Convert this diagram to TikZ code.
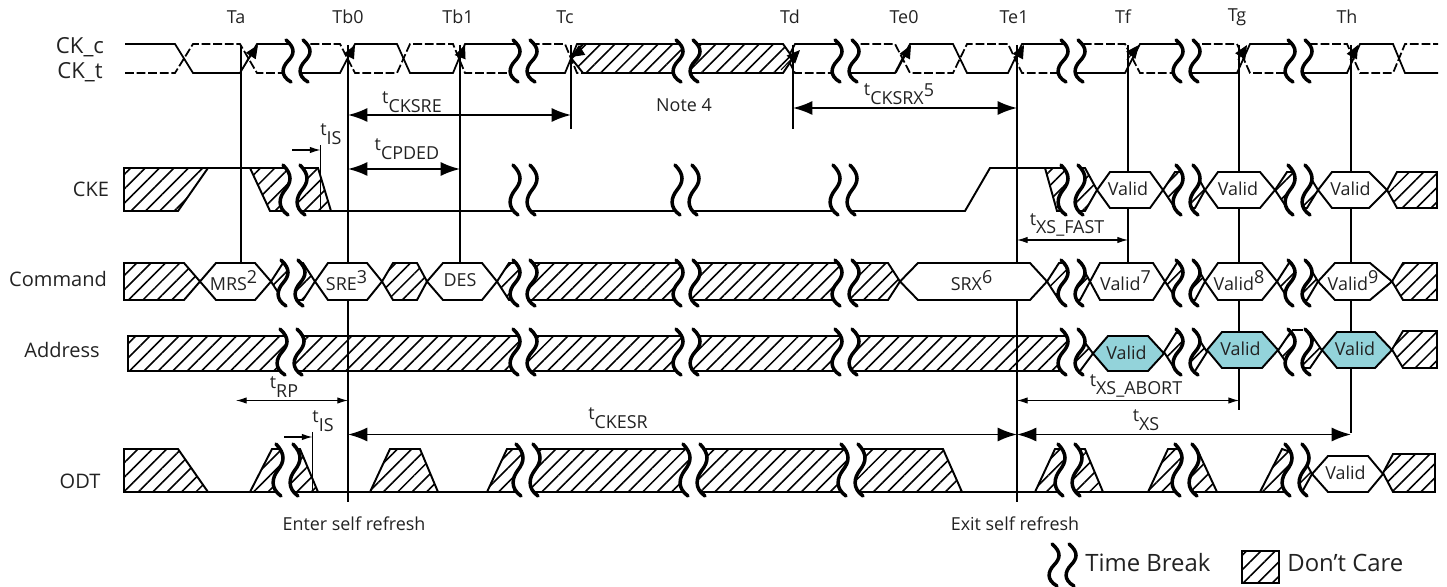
\documentclass[tikz,border=0pt]{standalone}
\usepackage{fontspec}
\setmainfont{Open Sans}
\usetikzlibrary{arrows.meta, patterns.meta}
\definecolor{validfill}{HTML}{93D3DA}
\definecolor{inkgray}{HTML}{222222}

% two wavy strokes with the gap between them wiped: x, centre y, half height
\newcommand{\timebreak}[3]{%
  \fill[white] (#1-2,#2-#3) .. controls (#1+8,#2-.6*#3) and (#1+6,#2-.3*#3) .. (#1,#2)
    .. controls (#1-6,#2+.3*#3) and (#1-8,#2+.7*#3) .. (#1+3,#2+#3)
    -- (#1+20,#2+#3) .. controls (#1+9,#2+.7*#3) and (#1+11,#2+.3*#3) .. (#1+17,#2)
    .. controls (#1+23,#2-.3*#3) and (#1+25,#2-.6*#3) .. (#1+15,#2-#3) -- cycle;
  \draw[brk] (#1-2,#2-#3) .. controls (#1+8,#2-.6*#3) and (#1+6,#2-.3*#3) .. (#1,#2)
    .. controls (#1-6,#2+.3*#3) and (#1-8,#2+.7*#3) .. (#1+3,#2+#3);
  \draw[brk] (#1+15,#2-#3) .. controls (#1+25,#2-.6*#3) and (#1+23,#2-.3*#3) .. (#1+17,#2)
    .. controls (#1+11,#2+.3*#3) and (#1+9,#2+.7*#3) .. (#1+20,#2+#3);
}
\newcommand{\tpar}[1]{\raisebox{5pt}{t}#1}
\newcommand{\upn}[1]{\raisebox{.42em}{#1}}

\begin{document}
\begin{tikzpicture}[
    x=0.02cm, y=-0.02cm,
    every node/.style={font=\fontsize{10.2}{12}\selectfont, text=inkgray, inner sep=0pt},
    sig/.style={font=\fontsize{11.4}{13}\selectfont},
    ckname/.style={font=\fontsize{12.6}{14}\selectfont},
    sigline/.style={line width=1pt, line join=miter},
    ckdash/.style={dash pattern=on 5pt off 1.6pt},
    hatch/.style={draw, line width=1.1pt, preaction={fill=white},
        pattern={Lines[angle=45, distance=5.8pt, line width=.9pt]}, pattern color=black},
    hexbus/.style={draw, line width=1.1pt, fill=white},
    hexvalid/.style={draw, line width=1.1pt, fill=validfill},
    brk/.style={line width=2pt, line cap=round},
    edge/.style={line width=1.2pt},
    clkarr/.style={-{Stealth[length=7.5pt, width=6.5pt, inset=0pt]}, line width=.6pt},
    dimbig/.style={{Latex[length=11pt, width=8pt]}-{Latex[length=11pt, width=8pt]}, line width=1.1pt},
    dimthin/.style={{Latex[length=6pt, width=3.6pt]}-{Latex[length=6pt, width=3.6pt]}, line width=.6pt},
    dimone/.style={-{Latex[length=6pt, width=3.6pt]}, line width=.6pt}
]
    \useasboundingbox (0,0) rectangle (1447,587);

    % signal names
    \node[ckname] (lblckc) at (80,47) {CK\_c};
    \node[ckname] (lblckt) at (80,72) {CK\_t};
    \node[sig] (lblcke) at (91,189) {CKE};
    \node[sig] (lblcmd) at (58,279) {Command};
    \node[sig] (lbladr) at (62,350) {Address};
    \node[sig] (lblodt) at (80,481) {ODT};

    % clock edges and their names
    \foreach \nm/\x/\lx in {Ta/241/236, Tb0/348/348, Tb1/460/458, Tc/571/565, Td/793/790,
        Te0/896/904, Te1/1017/1014, Tf/1128/1123, Tg/1239/1237, Th/1351/1347}{
        \coordinate (\nm) at (\x,45);
        \node (lbl\nm) at (\lx,17) {\nm};
    }

    % stops of the edge lines
    \coordinate (cmdtop) at (0,263);
    \coordinate (ckslo) at (0,129);
    \coordinate (refbot) at (0,502);
    \coordinate (abortlo) at (0,410);
    \coordinate (xslo) at (0,433);

    % CK_c solid, CK_t dashed
    \foreach \hi/\lo/\sty in {44/73/solid, 73/44/ckdash}{
        \draw[sigline, \sty] (125,\hi) -- (175,\hi) -- (193,\lo) -- (240,\lo) -- (257,\hi)
            -- (296,\hi) -- (300,\lo) -- (340,\lo) -- (355,\hi) -- (397,\hi) -- (410,\lo)
            -- (453,\lo) -- (465,\hi) -- (520,\hi) -- (524,\lo) -- (565,\lo) -- (577,\hi)
            -- (590,\hi) -- (780,\lo) -- (795,\hi) -- (842,\hi) -- (846,\lo) -- (895,\lo)
            -- (910,\hi) -- (953,\hi) -- (967,\lo) -- (1008,\lo) -- (1022,\hi) -- (1068,\hi)
            -- (1072,\lo) -- (1125,\lo) -- (1140,\hi) -- (1183,\hi) -- (1187,\lo) -- (1237,\lo)
            -- (1250,\hi) -- (1295,\hi) -- (1299,\lo) -- (1347,\lo) -- (1360,\hi) -- (1393,\hi)
            -- (1405,\lo) -- (1438,\lo);
    }
    \draw[hatch] (571,58) -- (583,44) -- (783,44) -- (793,58) -- (783,73) -- (583,73) -- cycle;

    % address band runs under the edge lines
    \draw[hatch] (128,336) -- (1080,336) -- (1093,353.5) -- (1080,371) -- (128,371) -- cycle;

    \foreach \nm/\stop in {Ta/cmdtop, Tb0/refbot, Tb1/cmdtop, Tc/ckslo, Td/ckslo, Te1/refbot,
        Tf/cmdtop, Tg/abortlo, Th/xslo}{
        \draw[edge] (\nm) -- (\nm |- \stop);
    }

    % arrows on the rising edges
    \foreach \nm/\ax/\ay/\bx/\by in {Ta/2/23/15/-23, Tb0/-1/15/8/-15, Tb1/-1/15/6/-15, Tc/11/5/-11/7,
        Td/-12/25/19/-20, Te0/0/28/15/-28, Te1/-1/15/8/-15, Tf/-1/15/12/-15, Tg/-1/15/9/-15, Th/-1/15/8/-15}{
        \draw[clkarr] (\nm) ++(\ax,\ay) -- ++(\bx,\by);
    }
    \node (lblnote) at (684,105) {Note 4};

    % CKE
    \draw[hatch] (124,168) -- (208,168) -- (178,211) -- (124,211) -- cycle;
    \draw[sigline, line width=1.1pt] (208,168) -- (250,168);
    \draw[hatch] (250,168) -- (318,168) -- (331,211) -- (270,211) -- cycle;
    \draw[sigline, line width=1.1pt] (331,211) -- (965,211) -- (990,168) -- (1045,168);
    \draw[hatch] (1045,168) -- (1085,168) -- (1097,190) -- (1085,211) -- (1057,211) -- cycle;

    % ODT
    \draw[sigline, line width=1.3pt] (124,492) -- (1300,492);
    \draw[hatch] (124,449) -- (178,449) -- (208,492) -- (124,492) -- cycle;
    \draw[hatch] (250,492) -- (272,449) -- (300,449) -- (318,492) -- cycle;
    \draw[hatch] (370,492) -- (390,449) -- (420,449) -- (438,492) -- cycle;
    \draw[hatch] (487,492) -- (507,449) -- (943,449) -- (962,492) -- cycle;
    \draw[hatch] (1035,492) -- (1055,449) -- (1085,449) -- (1103,492) -- cycle;
    \draw[hatch] (1148,492) -- (1168,449) -- (1197,449) -- (1217,492) -- cycle;
    \draw[hatch] (1260,492) -- (1282,449) -- (1302,456) -- (1312,474) -- (1302,492) -- cycle;

    % hatched stretches that end in a point
    \foreach \l/\tl/\tr/\r/\t/\b in {124/124/184/200/263/300, 271/283/303/315/263/300,
        382/393/417/427/263/300, 497/509/888/900/263/300, 1047/1059/1080/1090/263/300,
        1165/1177/1195/1205/263/300, 1277/1289/1307/1318/263/300, 1392/1403/1437/1437/263/300,
        1163/1175/1195/1205/172/208, 1275/1287/1307/1318/172/208, 1387/1397/1437/1437/172/208,
        1164/1176/1195/1207/333/371, 1278/1290/1310/1322/333/368, 1392/1403/1437/1437/331/368,
        1383/1393/1435/1435/454/492}{
        \draw[hatch] (\l,{(\t+\b)/2}) -- (\tl,\t) -- (\tr,\t) -- (\r,{(\t+\b)/2}) -- (\tr,\b) -- (\tl,\b) -- cycle;
    }

    % valid windows and commands
    \foreach \nm/\l/\tl/\tr/\r/\t/\b/\sty/\txt in {
        cmdmrs/200/216/255/271/263/300/hexbus/{MRS\upn{2}},
        cmdsre/315/328/367/382/263/300/hexbus/{SRE\upn{3}},
        cmddes/427/443/482/497/263/300/hexbus/{DES},
        cmdsrx/900/918/1030/1047/263/300/hexbus/{SRX\upn{6}},
        cmdvone/1090/1100/1153/1165/263/300/hexbus/{Valid\upn{7}},
        cmdvtwo/1205/1218/1262/1277/263/300/hexbus/{Valid\upn{8}},
        cmdvthr/1318/1335/1370/1392/263/300/hexbus/{Valid\upn{9}},
        ckevone/1097/1110/1150/1163/172/208/hexbus/{Valid},
        ckevtwo/1205/1218/1260/1275/172/208/hexbus/{Valid},
        ckevthr/1318/1332/1369/1387/172/208/hexbus/{Valid},
        adrvone/1093/1108/1148/1164/336/371/hexvalid/{Valid},
        adrvtwo/1207/1222/1262/1278/332/368/hexvalid/{Valid},
        adrvthr/1322/1337/1375/1392/332/368/hexvalid/{Valid},
        odtv/1312/1328/1368/1383/456/492/hexbus/{Valid}}{
        \draw[\sty] (\l,{(\t+\b)/2}) -- (\tl,\t) -- (\tr,\t) -- (\r,{(\t+\b)/2}) -- (\tr,\b) -- (\tl,\b) -- cycle;
        \node (\nm) at ({(\l+\r)/2-2},{(\t+\b)/2-1}) {\txt};
    }

    % timing spans
    \coordinate (rowsre) at (0,115);
    \coordinate (rowcpd) at (0,169);
    \coordinate (rowsrx) at (0,108);
    \coordinate (rowfast) at (0,240);
    \coordinate (rowrp) at (0,400.5);
    \coordinate (rowesr) at (0,434.5);
    \coordinate (rprise) at (236,400.5);
    \draw[dimbig] (Tb0 |- rowsre) -- (Tc |- rowsre);
    \draw[dimbig] (Tb0 |- rowcpd) -- (Tb1 |- rowcpd);
    \draw[dimbig] (Td |- rowsrx) -- (Te1 |- rowsrx);
    \draw[dimbig] (Tb0 |- rowesr) -- (Te1 |- rowesr);
    \draw[dimbig] (Te1 |- rowesr) -- (Th |- rowesr);
    \draw[dimthin] (rprise) -- (Tb0 |- rowrp);
    \draw[dimthin] (Te1 |- rowfast) -- (Tf |- rowfast);
    \draw[dimthin] (Te1 |- rowrp) -- (Tg |- rowrp);

    % setup ticks
    \coordinate (iscketop) at (320.5,145);
    \coordinate (isckebot) at (320.5,210);
    \coordinate (iscketail) at (292,150);
    \coordinate (isodttop) at (312.5,432);
    \coordinate (isodtbot) at (312.5,492);
    \coordinate (isodttail) at (284,437);
    \draw[line width=1pt] (iscketop) -- (isckebot);
    \draw[line width=1pt] (isodttop) -- (isodtbot);
    \draw[dimone] (iscketail) -- (iscketail -| iscketop);
    \draw[dimone] (isodttail) -- (isodttail -| isodttop);

    \node (lblsre) at (412,102) {\tpar{CKSRE}};
    \node (lblcpd) at (407,149) {\tpar{CPDED}};
    \node (lblisa) at (331,134) {\tpar{IS}};
    \node (lblsrx) at (899,94) {\tpar{CKSRX}\upn{5}};
    \node (lblfast) at (1067,225) {\tpar{XS\_FAST}};
    \node (lblrp) at (284,387) {\tpar{RP}};
    \node (lblisb) at (323,421) {\tpar{IS}};
    \node (lblesr) at (618,418) {\tpar{CKESR}};
    \node (lblabort) at (1136,386) {\tpar{XS\_ABORT}};
    \node (lblxs) at (1146,420) {\tpar{XS}};

    \node (lblenter) at (354,524) {Enter self refresh};
    \node (lblexit) at (1015,524) {Exit self refresh};

    % breaks, row by row: centre y / half height / x of the left stroke
    \foreach \cy/\hh/\xlist in {
        61/21/{288,515,678,837,1063,1178,1290},
        190/25/{285,515,677,835,1063,1178,1290},
        283/23/{283,515,678,837,1063,1178,1290},
        352/23/{282,515,678,837,1063,1178,1290},
        470/26/{278,518,685,843,1060,1177,1287}}{
        \foreach \x in \xlist {\timebreak{\x}{\cy}{\hh}}
    }
    \coordinate (stubl) at (1292,330);
    \coordinate (stubr) at (1303,330);
    \draw[line width=.7pt] (stubl) -- (stubr);

    % legend
    \timebreak{1054}{565}{21}
    \node[font=\fontsize{13.6}{16}\selectfont, anchor=west] (lbltb) at (1085,563) {Time Break};
    \draw[hatch] (1242,551) rectangle (1279,583);
    \node[font=\fontsize{13.6}{16}\selectfont, anchor=west] (lbldc) at (1287,563) {Don't Care};
\end{tikzpicture}
\end{document}
